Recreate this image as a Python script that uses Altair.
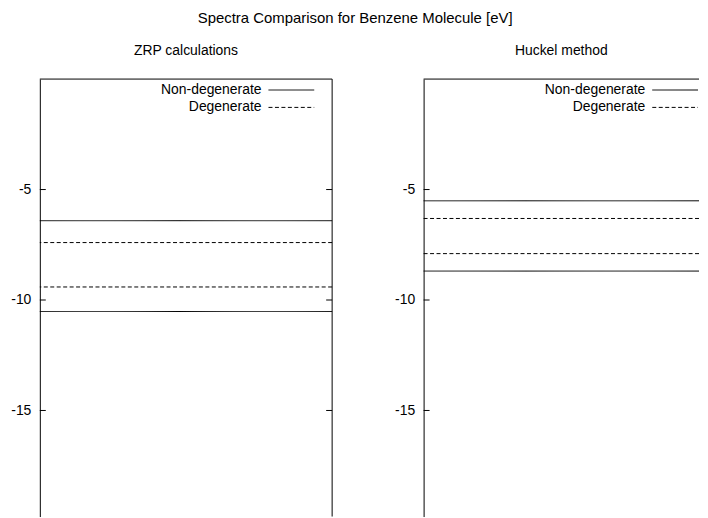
import altair as alt
import pandas as pd

FONT = "Liberation Sans"

main_title = "Spectra Comparison for Benzene Molecule [eV]"
panel_titles = ["ZRP calculations", "Huckel method"]
legend_labels = ["Non-degenerate", "Degenerate"]
tick_values = [-5, -10, -15]

# energy levels [eV]
zrp_nondeg = [-6.41, -10.52]
zrp_deg = [-7.40, -9.41]
huckel_nondeg = [-5.51, -8.69]
huckel_deg = [-6.31, -7.90]

W1, W2, H = 294, 277, 440
Y_DOMAIN = [-19.8, 0]
dash_scale = alt.Scale(domain=legend_labels, range=[[1, 0], [4, 2.5]])


def ydef():
    return alt.Y(
        "energy:Q",
        scale=alt.Scale(domain=Y_DOMAIN, nice=False, zero=False),
        axis=alt.Axis(values=tick_values, tickSize=0, labelPadding=9, grid=False,
                      title=None, domainColor="black", domainWidth=1,
                      labelExpr="'' + datum.value",
                      labelColor="black", labelFontSize=14, labelFont=FONT),
    )


def panel(title, nondeg, deg, W, right_border):
    df = pd.DataFrame({
        "energy": nondeg + deg,
        "type": [legend_labels[0]] * len(nondeg) + [legend_labels[1]] * len(deg),
    })
    levels = alt.Chart(df).mark_rule(color="black", strokeWidth=1).encode(
        y=ydef(),
        strokeDash=alt.StrokeDash("type:N", scale=dash_scale, legend=None),
    )
    tdf = pd.DataFrame({"energy": tick_values})
    tick_l = alt.Chart(tdf).mark_rule(color="black", strokeWidth=1).encode(
        y=ydef(), x=alt.value(0), x2=alt.value(6))
    top = alt.Chart(pd.DataFrame({"energy": [Y_DOMAIN[1]]})).mark_rule(
        color="black", strokeWidth=1).encode(y=ydef(), x=alt.value(0), x2=alt.value(W))
    layers = [levels, tick_l, top]
    if right_border:
        tick_r = alt.Chart(tdf).mark_rule(color="black", strokeWidth=1).encode(
            y=ydef(), x=alt.value(W - 6), x2=alt.value(W))
        border_r = alt.Chart(pd.DataFrame({"energy": [Y_DOMAIN[0]], "top": [Y_DOMAIN[1]]})).mark_rule(
            color="black", strokeWidth=1).encode(
            y=ydef(), y2=alt.Y2("top:Q"), x=alt.value(W))
        layers += [tick_r, border_r]
    for i, lab in enumerate(legend_labels):
        ly = 11 + i * 17.5
        ldf = pd.DataFrame({"type": [lab]})
        layers.append(
            alt.Chart(ldf).mark_text(align="right", baseline="middle", font=FONT,
                                     fontSize=14, color="black").encode(
                text="type:N", x=alt.value(223), y=alt.value(ly))
        )
        layers.append(
            alt.Chart(ldf).mark_rule(color="black", strokeWidth=1).encode(
                x=alt.value(230), x2=alt.value(276), y=alt.value(ly),
                strokeDash=alt.StrokeDash("type:N", scale=dash_scale, legend=None))
        )
    return alt.layer(*layers).properties(
        width=W, height=H,
        title=alt.TitleParams(title, font=FONT, fontSize=14, fontWeight="normal",
                              color="black", baseline="alphabetic", offset=10,
                              anchor="middle"),
    )


chart = alt.hconcat(
    panel(panel_titles[0], zrp_nondeg, zrp_deg, W1, True),
    panel(panel_titles[1], huckel_nondeg, huckel_deg, W2, False),
    spacing=92, bounds="flush",
).properties(
    title=alt.TitleParams(main_title, font=FONT, fontSize=15, fontWeight="normal",
                          color="black", baseline="alphabetic", offset=6,
                          anchor="middle", dx=0),
    padding={"left": 2, "top": 1, "right": 0, "bottom": 0},
).configure_view(stroke=None)

chart.save("out.html", embed_options={"renderer": "svg", "actions": False})
